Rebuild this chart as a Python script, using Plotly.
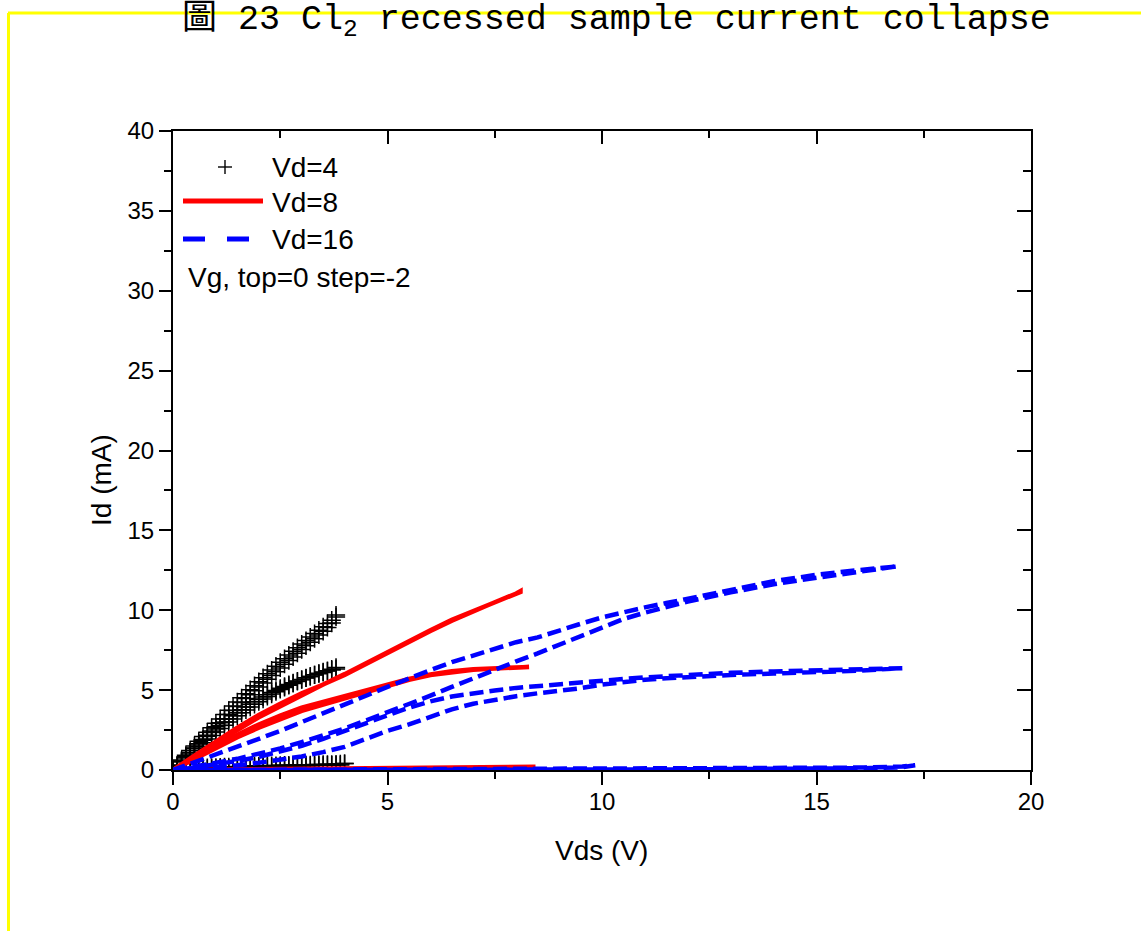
import plotly.graph_objects as go

# ---- Measured output characteristics (Id in mA vs Vds in V) ----
# Each sweep is a loop: forward branch (Vds rising) and backward branch (Vds falling).

# Vd = 4 V sweep (0.1 V steps)
vds_4 = [0.0, 0.1, 0.2, 0.3, 0.4, 0.5, 0.6, 0.7, 0.8, 0.9,
         1.0, 1.1, 1.2, 1.3, 1.4, 1.5, 1.6, 1.7, 1.8, 1.9,
         2.0, 2.1, 2.2, 2.3, 2.4, 2.5, 2.6, 2.7, 2.8, 2.9,
         3.0, 3.1, 3.2, 3.3, 3.4, 3.5, 3.6, 3.7, 3.8]
id_4_g0_fwd = [0, 0.31, 0.62, 0.92, 1.22, 1.51, 1.80, 2.09, 2.37, 2.65,
               2.93, 3.20, 3.47, 3.74, 4.00, 4.26, 4.52, 4.78, 5.03, 5.28,
               5.53, 5.78, 6.02, 6.26, 6.50, 6.74, 6.97, 7.20, 7.43, 7.66,
               7.88, 8.10, 8.32, 8.54, 8.75, 8.96, 9.17, 9.38, 9.58]
id_4_g0_bwd = [0, 0.27, 0.55, 0.82, 1.10, 1.37, 1.64, 1.91, 2.17, 2.44,
               2.70, 2.96, 3.21, 3.47, 3.72, 3.97, 4.22, 4.47, 4.71, 4.96,
               5.20, 5.44, 5.68, 5.92, 6.15, 6.39, 6.62, 6.85, 7.08, 7.31,
               7.54, 7.77, 8.00, 8.22, 8.45, 8.68, 8.92, 9.20, 9.70]
id_4_g2_fwd = [0, 0.28, 0.56, 0.83, 1.10, 1.36, 1.62, 1.87, 2.11, 2.35,
               2.57, 2.79, 3.00, 3.21, 3.40, 3.59, 3.77, 3.95, 4.11, 4.27,
               4.42, 4.57, 4.71, 4.85, 4.98, 5.11, 5.23, 5.35, 5.46, 5.57,
               5.67, 5.77, 5.86, 5.95, 6.03, 6.11, 6.19, 6.26, 6.33]
id_4_g2_bwd = [0, 0.25, 0.50, 0.75, 1.00, 1.24, 1.48, 1.71, 1.94, 2.16,
               2.38, 2.59, 2.80, 3.00, 3.20, 3.39, 3.58, 3.76, 3.94, 4.11,
               4.28, 4.44, 4.60, 4.75, 4.90, 5.04, 5.17, 5.30, 5.42, 5.54,
               5.65, 5.76, 5.86, 5.96, 6.05, 6.14, 6.22, 6.31, 6.42]
vds_4_g4 = [0.0, 0.1, 0.2, 0.3, 0.4, 0.5, 0.6, 0.7, 0.8, 0.9,
            1.0, 1.1, 1.2, 1.3, 1.4, 1.5, 1.6, 1.7, 1.8, 1.9,
            2.0, 2.1, 2.2, 2.3, 2.4, 2.5, 2.6, 2.7, 2.8, 2.9,
            3.0, 3.1, 3.2, 3.3, 3.4, 3.5, 3.6, 3.7, 3.8, 3.9, 4.0]
id_4_g4_fwd = [0, 0.03, 0.05, 0.07, 0.09, 0.11, 0.12, 0.14, 0.15, 0.16,
               0.17, 0.18, 0.19, 0.20, 0.21, 0.22, 0.23, 0.23, 0.24, 0.25,
               0.26, 0.26, 0.27, 0.28, 0.28, 0.29, 0.30, 0.30, 0.31, 0.32,
               0.32, 0.33, 0.33, 0.34, 0.35, 0.35, 0.36, 0.36, 0.37, 0.38, 0.40]
id_4_g4_bwd = [0, 0.01, 0.02, 0.03, 0.05, 0.06, 0.07, 0.08, 0.09, 0.10,
               0.11, 0.12, 0.13, 0.14, 0.15, 0.16, 0.17, 0.17, 0.18, 0.19,
               0.20, 0.20, 0.21, 0.22, 0.22, 0.23, 0.24, 0.24, 0.25, 0.26,
               0.26, 0.27, 0.27, 0.28, 0.29, 0.29, 0.30, 0.30, 0.31, 0.32, 0.40]

# Vd = 8 V sweep
vds_8_g0 = [0, 0.5, 1, 1.5, 2, 2.5, 3, 3.5, 4, 4.5, 5, 5.5, 6, 6.5, 7, 7.5, 8, 8.1]
id_8_g0_fwd = [0, 0.85, 1.70, 2.50, 3.30, 4.00, 4.70, 5.35, 6.00, 6.70,
               7.40, 8.10, 8.75, 9.40, 9.95, 10.50, 11.00, 11.15]
id_8_g0_bwd = [0, 0.90, 1.80, 2.65, 3.45, 4.15, 4.80, 5.35, 5.95, 6.60,
               7.30, 8.00, 8.70, 9.35, 9.95, 10.50, 11.05, 11.20]
vds_8_g2 = [0, 0.5, 1, 1.5, 2, 2.5, 3, 3.5, 4, 4.5, 5, 5.5, 6, 6.5, 7, 7.5, 8, 8.3]
id_8_g2_fwd = [0, 0.70, 1.40, 2.05, 2.65, 3.20, 3.70, 4.10, 4.50, 4.90,
               5.30, 5.65, 5.95, 6.15, 6.28, 6.35, 6.40, 6.42]
id_8_g2_bwd = [0, 0.75, 1.50, 2.20, 2.85, 3.40, 3.90, 4.30, 4.65, 5.00,
               5.35, 5.70, 5.98, 6.18, 6.30, 6.37, 6.42, 6.45]
vds_8_g4 = [0, 1, 2, 3, 4, 5, 6, 7, 8, 8.45]
id_8_g4_fwd = [0, 0.02, 0.04, 0.06, 0.08, 0.10, 0.12, 0.14, 0.17, 0.20]
id_8_g4_bwd = [0, 0.01, 0.02, 0.03, 0.05, 0.07, 0.09, 0.11, 0.14, 0.20]

# Vd = 16 V sweep
vds_16_g0 = [0, 0.5, 1, 1.5, 2, 2.5, 3, 3.5, 4, 4.5, 5, 5.5, 6, 6.5, 7, 7.5,
             8, 8.5, 9, 9.5, 10, 10.5, 11, 11.5, 12, 13, 14, 15, 16, 16.9]
id_16_g0_fwd = [0, 0.20, 0.45, 0.70, 1.00, 1.35, 1.75, 2.15, 2.60, 3.10,
                3.60, 4.10, 4.65, 5.20, 5.75, 6.30, 6.80, 7.30, 7.85, 8.40,
                8.95, 9.45, 9.85, 10.22, 10.55, 11.12, 11.63, 12.03, 12.38, 12.75]
id_16_g0_bwd = [0, 0.45, 0.95, 1.45, 1.95, 2.45, 2.95, 3.50, 4.10, 4.65,
                5.20, 5.75, 6.25, 6.75, 7.20, 7.60, 8.00, 8.30, 8.75, 9.15,
                9.55, 9.90, 10.18, 10.45, 10.72, 11.30, 11.82, 12.22, 12.52, 12.75]
vds_16_g2 = [0, 0.5, 1, 1.5, 2, 2.5, 3, 3.5, 4, 4.5, 5, 5.5, 6, 6.5, 7, 7.5,
             8, 8.5, 9, 9.5, 10, 10.5, 11, 11.5, 12, 13, 14, 15, 16, 17]
id_16_g2_fwd = [0, 0.08, 0.18, 0.30, 0.45, 0.62, 0.85, 1.12, 1.45, 1.95,
                2.45, 2.85, 3.30, 3.80, 4.15, 4.42, 4.62, 4.80, 4.95, 5.12,
                5.35, 5.52, 5.65, 5.74, 5.82, 5.95, 6.04, 6.12, 6.22, 6.37]
id_16_g2_bwd = [0, 0.15, 0.35, 0.57, 0.82, 1.15, 1.52, 1.95, 2.42, 2.92,
                3.42, 3.90, 4.30, 4.60, 4.82, 4.98, 5.14, 5.27, 5.40, 5.50,
                5.60, 5.70, 5.80, 5.88, 5.96, 6.08, 6.17, 6.25, 6.32, 6.37]
vds_16_g4 = [0, 1, 2, 3, 4, 5, 6, 7, 8, 9, 10, 11, 12, 13, 14, 15, 16, 17, 17.3]
id_16_g4_fwd = [0, 0.01, 0.01, 0.02, 0.02, 0.02, 0.03, 0.03, 0.03, 0.04,
                0.04, 0.05, 0.06, 0.07, 0.09, 0.11, 0.15, 0.22, 0.30]
id_16_g4_bwd = [0, 0.00, 0.01, 0.01, 0.01, 0.01, 0.02, 0.02, 0.02, 0.03,
                0.03, 0.03, 0.04, 0.05, 0.06, 0.08, 0.11, 0.17, 0.30]

# Axis ticks
x_ticks = [0, 5, 10, 15, 20]
y_ticks = [0, 5, 10, 15, 20, 25, 30, 35, 40]

# Legend entries
legend_labels = ["Vd=4", "Vd=8", "Vd=16"]
legend_note = "Vg, top=0 step=-2"
title_text = "圖 23 Cl<sub>2</sub> recessed sample current collapse"

# ---- Figure geometry (pixels) ----
W, H = 1141, 931
L, R, T, B = 173, 1031, 131, 770


def px(x):
    return (x - L) / (R - L)


def py(y):
    return (B - y) / (B - T)


def loop(v, fwd, bwd):
    return list(v) + list(v)[::-1], list(fwd) + list(bwd)[::-1]


fig = go.Figure()

# Vd=4: cross markers
for v, f, b in [(vds_4, id_4_g0_fwd, id_4_g0_bwd),
                (vds_4, id_4_g2_fwd, id_4_g2_bwd),
                (vds_4_g4, id_4_g4_fwd, id_4_g4_bwd)]:
    x, y = loop(v, f, b)
    fig.add_trace(go.Scatter(
        x=x, y=y, mode="markers", showlegend=False,
        marker=dict(symbol="cross-thin", size=13, color="black",
                    line=dict(color="black", width=1.5))))

# Vd=8: solid red lines
for v, f, b in [(vds_8_g0, id_8_g0_fwd, id_8_g0_bwd),
                (vds_8_g2, id_8_g2_fwd, id_8_g2_bwd),
                (vds_8_g4, id_8_g4_fwd, id_8_g4_bwd)]:
    x, y = loop(v, f, b)
    fig.add_trace(go.Scatter(
        x=x, y=y, mode="lines", showlegend=False,
        line=dict(color="#ff0000", width=4.5)))

# Vd=16: dashed blue lines
for v, f, b in [(vds_16_g0, id_16_g0_fwd, id_16_g0_bwd),
                (vds_16_g2, id_16_g2_fwd, id_16_g2_bwd),
                (vds_16_g4, id_16_g4_fwd, id_16_g4_bwd)]:
    x, y = loop(v, f, b)
    fig.add_trace(go.Scatter(
        x=x, y=y, mode="lines", showlegend=False,
        line=dict(color="#0000ff", width=4.5, dash="14px,6px")))

# Empty traces that anchor the frame axes (top/right and bottom tick marks)
fig.add_trace(go.Scatter(x=[], y=[], xaxis="x2", yaxis="y2",
                         showlegend=False, hoverinfo="skip"))
fig.add_trace(go.Scatter(x=[], y=[], xaxis="x3", yaxis="y",
                         showlegend=False, hoverinfo="skip"))

axis_font = dict(family="Liberation Sans, Arial, sans-serif", size=24, color="black")
common = dict(showgrid=False, zeroline=False, showline=True, linecolor="black",
              linewidth=2, tickcolor="black", tickwidth=2)

fig.update_layout(
    width=W, height=H,
    margin=dict(l=L, r=W - R, t=T, b=H - B, pad=0),
    paper_bgcolor="white", plot_bgcolor="white",
    showlegend=False,
    # bottom axis: labels only (tick marks come from xaxis3)
    xaxis=dict(range=[0, 20], tickvals=x_ticks, ticks="", ticklen=0,
               ticklabelstandoff=9, tickfont=axis_font, **common),
    xaxis3=dict(range=[0, 20], overlaying="x", side="bottom", tickvals=x_ticks,
                ticks="outside", ticklen=13, showticklabels=False,
                minor=dict(dtick=2.5, ticks="outside", ticklen=7,
                           tickwidth=2, tickcolor="black"),
                **common),
    yaxis=dict(range=[0, 40], tickvals=y_ticks, ticks="outside", ticklen=12,
               tickfont=axis_font,
               minor=dict(dtick=2.5, ticks="outside", ticklen=7,
                          tickwidth=2, tickcolor="black"),
               **common),
    xaxis2=dict(range=[0, 20], overlaying="x", side="top", tickvals=x_ticks,
                ticks="inside", ticklen=13, showticklabels=False,
                minor=dict(dtick=2.5, ticks="inside", ticklen=7,
                           tickwidth=2, tickcolor="black"),
                **common),
    yaxis2=dict(range=[0, 40], overlaying="y", side="right", tickvals=y_ticks,
                ticks="inside", ticklen=14, showticklabels=False,
                minor=dict(dtick=2.5, ticks="inside", ticklen=8,
                           tickwidth=2, tickcolor="black"),
                **common),
)

text_font = dict(family="Liberation Sans, Arial, sans-serif", color="black")
annotations = [
    # axis titles
    dict(x=px(601), y=py(850), text="Vds (V)", font=dict(size=28, **text_font)),
    dict(x=px(101), y=py(480), text="Id (mA)", textangle=-90,
         font=dict(size=28, **text_font)),
    # legend labels
    dict(x=px(270), y=py(167), text=legend_labels[0], xanchor="left",
         font=dict(size=28, **text_font)),
    dict(x=px(270), y=py(203), text=legend_labels[1], xanchor="left",
         font=dict(size=28, **text_font)),
    dict(x=px(270), y=py(239), text=legend_labels[2], xanchor="left",
         font=dict(size=28, **text_font)),
    dict(x=px(186), y=py(277), text=legend_note, xanchor="left",
         font=dict(size=28, **text_font)),
    # title
    dict(x=px(180), y=py(22), text=title_text, xanchor="left",
         font=dict(family="Liberation Mono, Noto Sans CJK TC, monospace",
                   size=35, color="black")),
]
for a in annotations:
    a.setdefault("xanchor", "center")
    a.setdefault("yanchor", "middle")
    a.update(xref="paper", yref="paper", showarrow=False)
fig.update_layout(annotations=annotations)

shapes = [
    # legend keys
    dict(type="line", x0=px(218), x1=px(232), y0=py(167), y1=py(167),
         line=dict(color="black", width=1.4)),
    dict(type="line", x0=px(225), x1=px(225), y0=py(160), y1=py(174),
         line=dict(color="black", width=1.4)),
    dict(type="line", x0=px(183), x1=px(263), y0=py(201), y1=py(201),
         line=dict(color="#ff0000", width=5)),
    dict(type="line", x0=px(183), x1=px(249), y0=py(239), y1=py(239),
         line=dict(color="#0000ff", width=5, dash="22px,22px")),
    # yellow page frame
    dict(type="line", x0=px(8), x1=px(1141), y0=py(13), y1=py(13),
         line=dict(color="#ffff00", width=3)),
    dict(type="line", x0=px(8.5), x1=px(8.5), y0=py(13), y1=py(931),
         line=dict(color="#ffff00", width=3)),
]
for s in shapes:
    s.update(xref="paper", yref="paper")
fig.update_layout(shapes=shapes)

fig.write_html("out.html")
